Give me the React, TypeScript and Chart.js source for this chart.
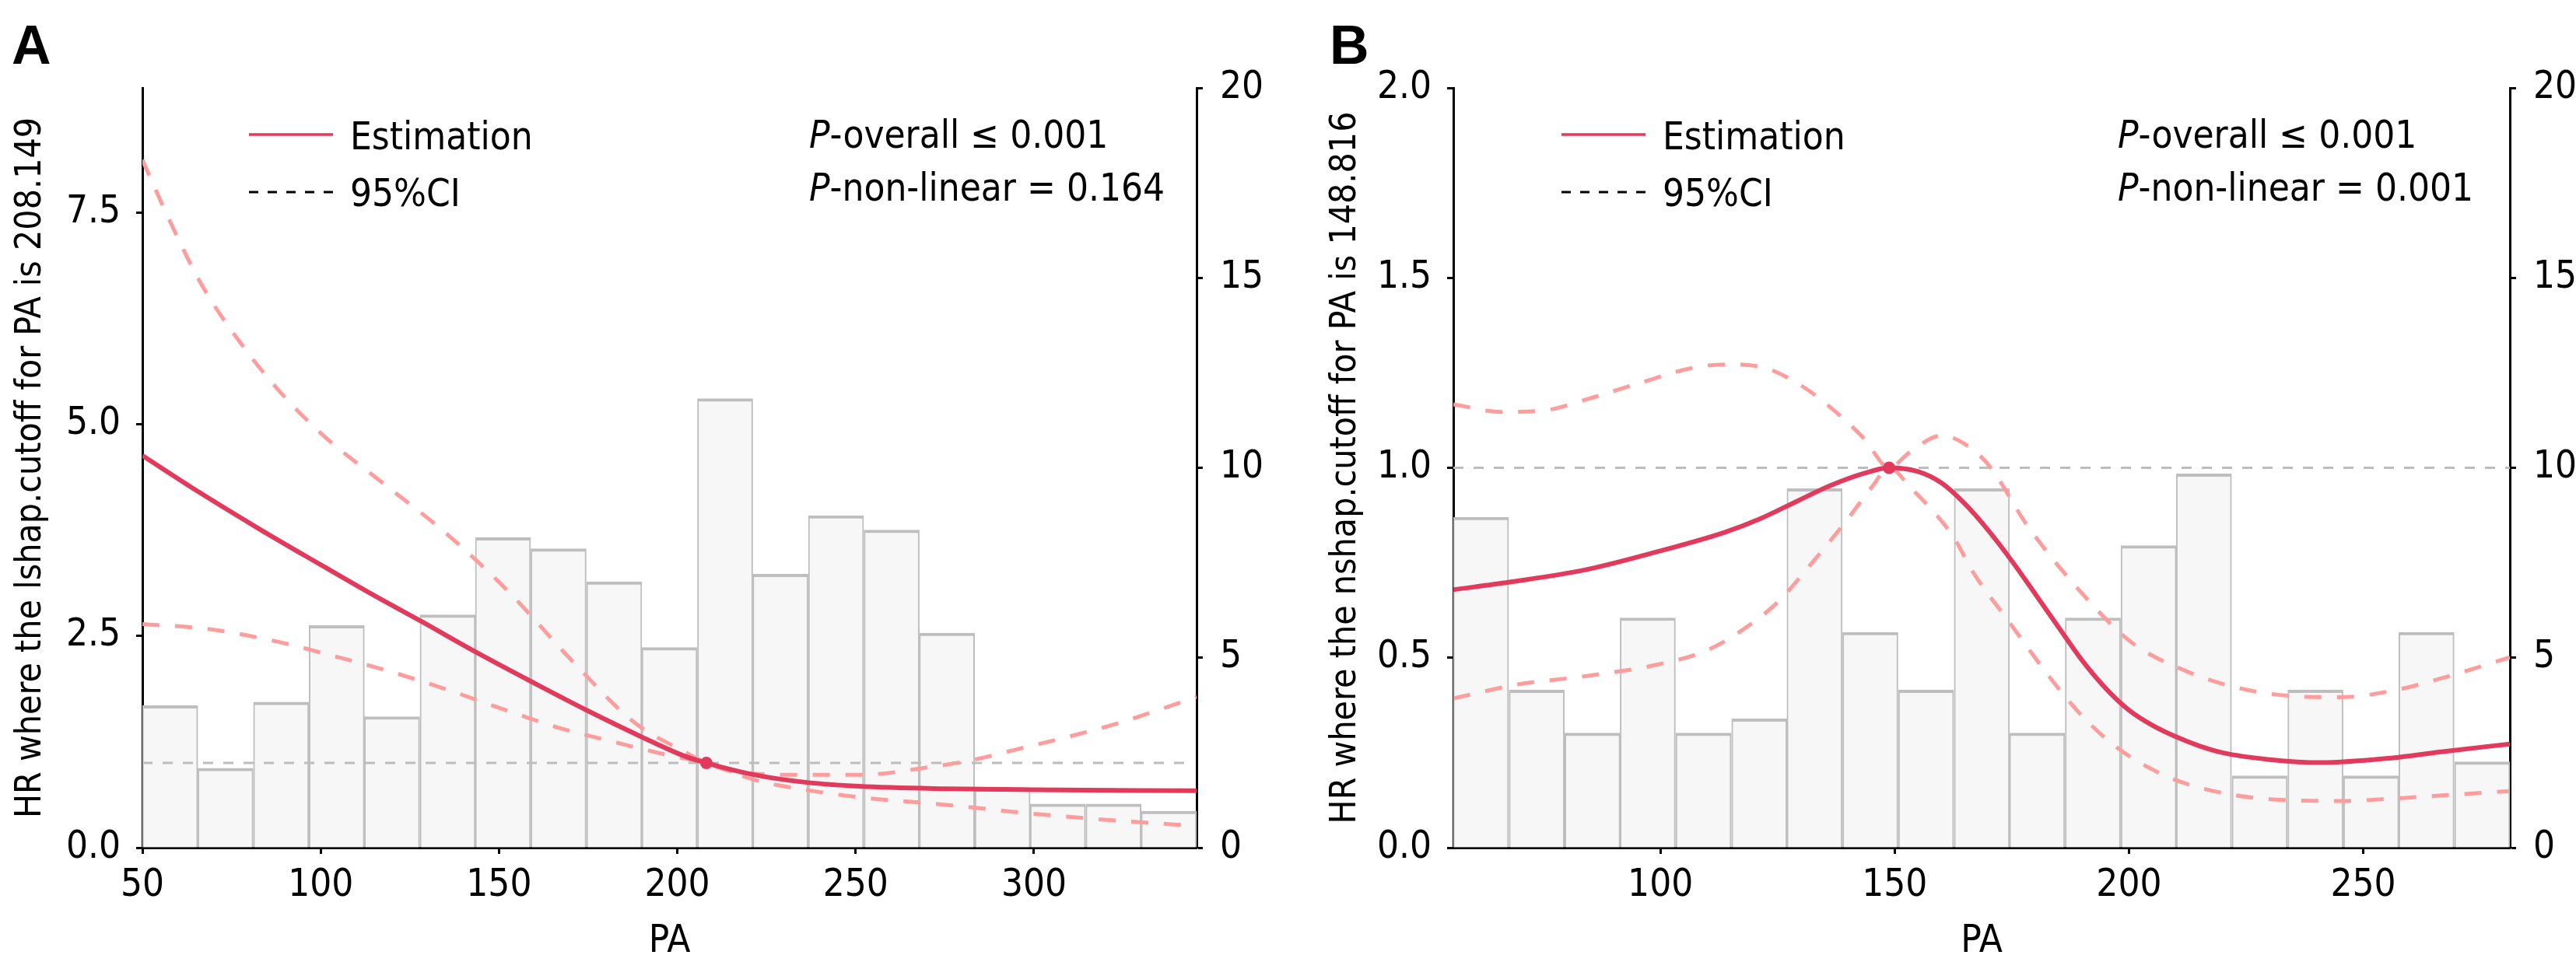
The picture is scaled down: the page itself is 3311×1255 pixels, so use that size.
import { useEffect, useRef } from 'react';
import Chart from 'chart.js/auto';

const FONT = "'DejaVu Sans Condensed', 'DejaVu Sans', sans-serif";
const RED = '#E13A5C';
const PINK = '#FF9C9C';

// ---- panel A ----
const histMidA = [57.8, 73.3, 88.9, 104.5, 120.0, 135.6, 151.1, 166.7, 182.3, 197.8, 213.4, 228.9, 244.5, 260.1, 275.6, 291.2, 306.7, 322.3, 337.8];
const histA = [3.74, 2.09, 3.83, 5.85, 3.45, 6.13, 8.16, 7.87, 7.0, 5.27, 11.82, 7.2, 8.74, 8.36, 5.65, 1.55, 1.15, 1.15, 0.96];

const estXA = [50, 65.8, 83.3, 100, 113.6, 128.3, 143.5, 159.1, 174.7, 190.4, 202.1, 208.149, 221.7, 236.4, 251, 275.5, 300, 345.6];
const estYA = [4.63, 4.2, 3.75, 3.34, 3.01, 2.67, 2.31, 1.96, 1.62, 1.3, 1.08, 1.0, 0.86, 0.77, 0.725, 0.696, 0.684, 0.672];

const upXA = [50, 57.9, 66.7, 77.5, 88.2, 100.9, 117.6, 135.2, 151.8, 171.3, 187.9, 202.1, 208.149, 216.9, 236.4, 251.1, 270.6, 283.3, 295.1, 309.7, 324.4, 345.6];
const upYA = [8.12, 7.38, 6.64, 5.96, 5.4, 4.86, 4.3, 3.71, 3.06, 2.17, 1.48, 1.13, 1.0, 0.89, 0.86, 0.86, 0.95, 1.04, 1.16, 1.31, 1.48, 1.78];

const loXA = [50, 68.7, 88.2, 103.9, 119.5, 135.2, 150.8, 166.4, 182.1, 197.7, 208.149, 221.7, 236.4, 251.1, 275.5, 300, 324.4, 345.6];
const loYA = [2.64, 2.58, 2.43, 2.26, 2.08, 1.87, 1.64, 1.42, 1.25, 1.09, 1.0, 0.8, 0.68, 0.595, 0.506, 0.4, 0.316, 0.257];

const refLineXA = [50, 343];

// ---- panel B ----
const histMidB = [61.7, 73.6, 85.5, 97.3, 109.2, 121.1, 132.9, 144.8, 156.7, 168.6, 180.4, 192.3, 204.2, 216.0, 227.9, 239.8, 251.7, 263.5, 275.4];
const histB = [8.7, 4.15, 3.02, 6.05, 3.02, 3.39, 9.45, 5.67, 4.15, 9.45, 3.02, 6.05, 7.95, 9.84, 1.89, 4.15, 1.89, 5.67, 2.26];

const estXB = [55.8, 67.8, 84.2, 99, 113.9, 121.3, 128.8, 136.2, 143.6, 148.816, 155, 160, 165, 170, 175, 180, 185, 190, 195, 200, 205, 210, 215, 220, 230, 241, 256, 267, 281.3];
const estYB = [0.679, 0.699, 0.732, 0.778, 0.831, 0.866, 0.91, 0.953, 0.986, 1.0, 0.99, 0.96, 0.905, 0.835, 0.755, 0.668, 0.58, 0.493, 0.42, 0.362, 0.322, 0.292, 0.268, 0.25, 0.232, 0.224, 0.236, 0.253, 0.273];

const upXB = [55.8, 66.4, 75.3, 84.2, 95.3, 106.5, 113.9, 121.3, 128.8, 136.2, 143.6, 148.816, 153.3, 160, 165.9, 170.4, 178.2, 189.3, 200.5, 211.6, 222.8, 233.9, 245, 256.2, 267.3, 281.3];
const upYB = [1.167, 1.147, 1.151, 1.18, 1.222, 1.262, 1.272, 1.266, 1.226, 1.16, 1.075, 1.0, 1.042, 1.085, 1.055, 1.002, 0.85, 0.679, 0.541, 0.468, 0.422, 0.4, 0.396, 0.413, 0.448, 0.501];

const loXB = [55.8, 69.3, 84.2, 99, 110.2, 117.6, 125, 132.5, 139.9, 145.1, 148.816, 153.3, 162.2, 167.05, 174.5, 181.9, 189.3, 196.8, 204.2, 211.6, 222.8, 233.9, 245, 256.2, 267.3, 281.3];
const loYB = [0.393, 0.429, 0.452, 0.481, 0.521, 0.574, 0.646, 0.752, 0.864, 0.949, 1.0, 0.949, 0.824, 0.719, 0.593, 0.468, 0.356, 0.27, 0.211, 0.171, 0.138, 0.125, 0.123, 0.129, 0.138, 0.149];

const refLineXB = [55.8, 281.3];

type PanelSpec = {
  left: number;
  width: number;
  xMin: number;
  xMax: number;
  yMax: number;
  yStep: number;
  yTitle: string;
  titlePad: number;
  leftW: number;
  rightW: number;
  cutoff: number;
  histMid: number[];
  hist: number[];
  estX: number[];
  estY: number[];
  upX: number[];
  upY: number[];
  loX: number[];
  loY: number[];
  refX: number[];
};

const pts = (xs: number[], ys: number[]) => xs.map((x, i) => ({ x, y: ys[i] }));

const tickFont = { family: FONT, size: 49 };
const titleFont = { family: FONT, size: 46 };

function Panel({ spec }: { spec: PanelSpec }) {
  const chartRef = useRef<HTMLCanvasElement>(null);
  const chartInstance = useRef<Chart | null>(null);

  useEffect(() => {
    if (!chartRef.current) return;
    if (chartInstance.current) chartInstance.current.destroy();
    const ctx = chartRef.current.getContext('2d');
    if (!ctx) return;

    const axisGrid = {
      display: true,
      drawOnChartArea: false,
      drawTicks: true,
      tickLength: 8,
      tickWidth: 3,
      tickColor: '#000',
      offset: false,
    };
    const border = { display: true, color: '#000', width: 3 };

    chartInstance.current = new Chart(ctx, {
      type: 'scatter',
      data: {
        datasets: [
          {
            type: 'scatter',
            data: [{ x: spec.cutoff, y: 1 }],
            pointRadius: 8,
            pointBackgroundColor: RED,
            pointBorderWidth: 0,
            yAxisID: 'y',
            order: 0,
          },
          {
            type: 'line',
            data: pts(spec.estX, spec.estY),
            borderColor: RED,
            borderWidth: 6,
            pointRadius: 0,
            cubicInterpolationMode: 'monotone',
            yAxisID: 'y',
            order: 1,
          },
          {
            type: 'line',
            data: pts(spec.upX, spec.upY),
            borderColor: PINK,
            borderWidth: 5,
            borderDash: [22, 20],
            pointRadius: 0,
            cubicInterpolationMode: 'monotone',
            yAxisID: 'y',
            order: 2,
          },
          {
            type: 'line',
            data: pts(spec.loX, spec.loY),
            borderColor: PINK,
            borderWidth: 5,
            borderDash: [22, 20],
            pointRadius: 0,
            cubicInterpolationMode: 'monotone',
            yAxisID: 'y',
            order: 3,
          },
          {
            type: 'line',
            data: spec.refX.map((x) => ({ x, y: 1 })),
            borderColor: '#BDBDBD',
            borderWidth: 3,
            borderDash: [13, 13],
            pointRadius: 0,
            yAxisID: 'y',
            order: 4,
          },
          {
            type: 'bar',
            data: pts(spec.histMid, spec.hist),
            backgroundColor: '#F8F7F8',
            borderColor: '#BEBEBE',
            borderWidth: { top: 4, left: 2, right: 2, bottom: 0 },
            barPercentage: 1,
            categoryPercentage: 1,
            yAxisID: 'y2',
            order: 5,
          },
        ],
      } as any,
      options: {
        animation: false,
        responsive: false,
        events: [],
        layout: { padding: { top: 113, left: 0, right: 0, bottom: 0 } },
        plugins: { legend: { display: false }, tooltip: { enabled: false } },
        scales: {
          x: {
            type: 'linear',
            min: spec.xMin,
            max: spec.xMax,
            offset: false,
            grid: axisGrid,
            border,
            ticks: {
              stepSize: 50,
              includeBounds: false,
              autoSkip: false,
              maxRotation: 0,
              padding: 12,
              color: '#000',
              font: tickFont,
            },
            title: {
              display: true,
              text: 'PA',
              color: '#000',
              font: tickFont,
              padding: { top: 0, bottom: 14 },
            },
            afterFit: (s: any) => {
              s.height = 165;
            },
          },
          y: {
            type: 'linear',
            position: 'left',
            min: 0,
            max: spec.yMax,
            grid: axisGrid,
            border,
            ticks: {
              stepSize: spec.yStep,
              includeBounds: false,
              padding: 20,
              color: '#000',
              font: tickFont,
              callback: (v: any) => Number(v).toFixed(1),
            },
            title: {
              display: true,
              text: spec.yTitle,
              color: '#000',
              font: titleFont,
              padding: { top: spec.titlePad, bottom: 0 },
            },
            afterFit: (s: any) => {
              s.width = spec.leftW;
            },
          },
          y2: {
            type: 'linear',
            position: 'right',
            min: 0,
            max: 20,
            grid: axisGrid,
            border,
            ticks: {
              stepSize: 5,
              includeBounds: false,
              padding: 22,
              color: '#000',
              font: tickFont,
              callback: (v: any) => String(Math.round(Number(v))),
            },
            afterFit: (s: any) => {
              s.width = spec.rightW;
            },
          },
        },
      } as any,
    });

    return () => {
      if (chartInstance.current) {
        chartInstance.current.destroy();
        chartInstance.current = null;
      }
    };
  }, [spec]);

  return (
    <div style={{ position: 'absolute', left: spec.left, top: 0, width: spec.width, height: 1255 }}>
      <canvas ref={chartRef} width={spec.width} height={1255} style={{ display: 'block' }} />
    </div>
  );
}

const txt: React.CSSProperties = {
  position: 'absolute',
  fontFamily: FONT,
  fontSize: 49,
  lineHeight: '49px',
  color: '#000',
  whiteSpace: 'nowrap',
};

function Legend({ x, pLeft, pNonLinear }: { x: number; pLeft: number; pNonLinear: string }) {
  return (
    <>
      <svg style={{ position: 'absolute', left: x, top: 160, overflow: 'visible' }} width={110} height={100}>
        <line x1={0} y1={13} x2={108} y2={13} stroke={RED} strokeWidth={3.5} />
        <line x1={0} y1={87} x2={108} y2={87} stroke="#000" strokeWidth={3} strokeDasharray="12 12" />
      </svg>
      <div style={{ ...txt, left: x + 130, top: 151 }}>Estimation</div>
      <div style={{ ...txt, left: x + 130, top: 224 }}>95%CI</div>
      <div style={{ ...txt, left: pLeft, top: 149 }}>
        <i>P</i>-overall ≤ 0.001
      </div>
      <div style={{ ...txt, left: pLeft, top: 217 }}>
        <i>P</i>-non-linear = {pNonLinear}
      </div>
    </>
  );
}

const specA: PanelSpec = {
  left: 0,
  width: 1650,
  xMin: 50,
  xMax: 345.6,
  yMax: 8.97,
  yStep: 2.5,
  yTitle: 'HR where the lshap.cutoff for PA is 208.149',
  titlePad: 12,
  leftW: 183,
  rightW: 112,
  cutoff: 208.149,
  histMid: histMidA,
  hist: histA,
  estX: estXA,
  estY: estYA,
  upX: upXA,
  upY: upYA,
  loX: loXA,
  loY: loYA,
  refX: refLineXA,
};

const specB: PanelSpec = {
  left: 1650,
  width: 1661,
  xMin: 55.8,
  xMax: 281.3,
  yMax: 2,
  yStep: 0.5,
  yTitle: 'HR where the nshap.cutoff for PA is 148.816',
  titlePad: 52,
  leftW: 218,
  rightW: 85,
  cutoff: 148.816,
  histMid: histMidB,
  hist: histB,
  estX: estXB,
  estY: estYB,
  upX: upXB,
  upY: upYB,
  loX: loXB,
  loY: loYB,
  refX: refLineXB,
};

const letter: React.CSSProperties = {
  position: 'absolute',
  top: 23,
  fontFamily: "'Liberation Sans', Arial, sans-serif",
  fontWeight: 'bold',
  fontSize: 70,
  lineHeight: '70px',
  color: '#000',
};

export default function App() {
  return (
    <div style={{ position: 'absolute', left: 0, top: 0, width: 3311, height: 1255, background: '#fff', overflow: 'hidden' }}>
      <Panel spec={specA} />
      <Panel spec={specB} />
      <div style={{ ...letter, left: 15 }}>A</div>
      <div style={{ ...letter, left: 1709 }}>B</div>
      <Legend x={320} pLeft={1040} pNonLinear="0.164" />
      <Legend x={2007} pLeft={2722} pNonLinear="0.001" />
    </div>
  );
}
